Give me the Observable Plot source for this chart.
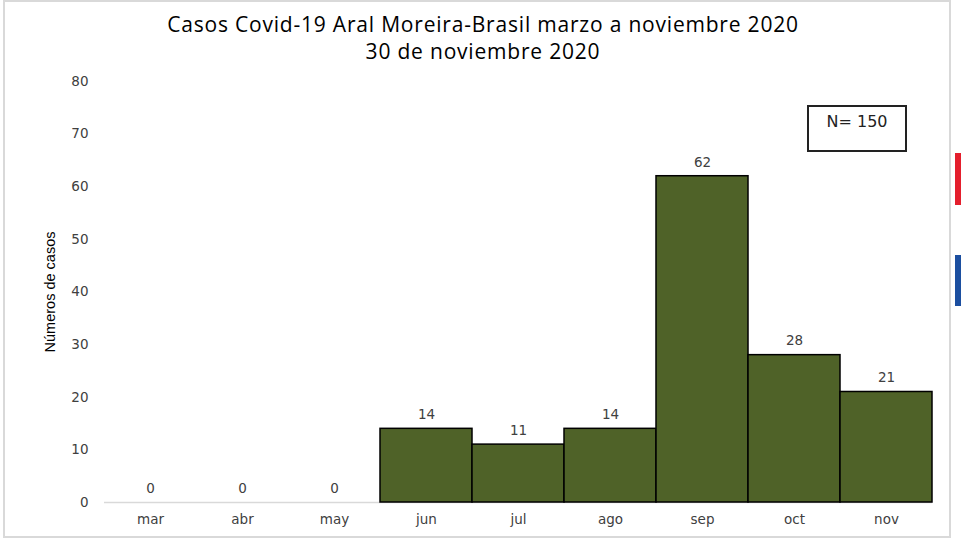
<!DOCTYPE html>
<html>
<head>
<meta charset="utf-8">
<script src="https://cdn.jsdelivr.net/npm/d3@7"></script>
<script src="https://cdn.jsdelivr.net/npm/@observablehq/plot@0.6"></script>
<style>
  html, body { margin: 0; padding: 0; background: #fff; }
  #page { position: relative; width: 961px; height: 542px; overflow: hidden; background: #fff; }
  #frame { position: absolute; left: 3px; top: 0px; width: 944px; height: 534px; border: 2px solid #d9d9d9; box-sizing: content-box; }
  #title { position: absolute; left: 0; top: 11px; width: 966px; text-align: center; font-family: "Open Sans", sans-serif; font-size: 21px; color: #000; line-height: 27px; white-space: nowrap; }
  #chart { position: absolute; left: 0; top: 70px; }
  #nbox { position: absolute; left: 807px; top: 105px; width: 96px; height: 43px; border: 2px solid #222; font-family: "DejaVu Sans", Verdana, sans-serif; font-size: 16px; color: #222; text-align: center; line-height: 30px; }
  .strip { position: absolute; left: 955px; width: 6px; }
</style>
</head>
<body>
<div id="page">
  <div id="frame"></div>
  <div class="strip" style="top:153px;height:52px;background:#e41f2d"></div>
  <div class="strip" style="top:255px;height:51px;background:#1c4fa0"></div>
  <div id="title"><span id="t1">Casos Covid-19 Aral Moreira-Brasil marzo a noviembre 2020</span><br><span id="t2">30 de noviembre 2020</span></div>
  <div id="chart"></div>
  <div id="nbox">N= 150</div>
</div>
<script>
const months = ["mar", "abr", "may", "jun", "jul", "ago", "sep", "oct", "nov"];
const cases = [0, 0, 0, 14, 11, 14, 62, 28, 21];
const yTicks = [0, 10, 20, 30, 40, 50, 60, 70, 80];
const yLabel = "Números de casos";

const data = months.map((m, i) => ({month: m, value: cases[i]}));

// fit title width to the reference (small letter-spacing)
const t1 = document.getElementById("t1");
const title = document.getElementById("title");
const w = t1.getBoundingClientRect().width;
const ls = Math.max(0, Math.min(0.8, (694 - w) / t1.textContent.length));
title.style.letterSpacing = ls.toFixed(2) + "px";

const tickFont = "DejaVu Sans, Verdana, sans-serif";

const chart = Plot.plot({
  width: 961,
  height: 472,
  marginTop: 11,
  marginBottom: 40,
  marginLeft: 104,
  marginRight: 29,
  style: {fontFamily: tickFont, fontSize: "13.5px", color: "#404040", background: "transparent"},
  x: {domain: months, padding: 0},
  y: {domain: [0, 80]},
  marks: [
    Plot.ruleY([0], {stroke: "#d9d9d9", strokeWidth: 1.5}),
    Plot.barY(data, {x: "month", y: "value", fill: "#4f6228", stroke: "#000", strokeWidth: 1.5}),
    Plot.text(data, {x: "month", y: "value", text: d => String(d.value), dy: -14, fill: "#404040", fontSize: 13.5}),
    Plot.axisX({tickSize: 0, tickPadding: 12, label: null, fill: "#404040", fontSize: 13.5}),
    Plot.axisY({ticks: yTicks, tickSize: 0, tickPadding: 16, label: null, fill: "#404040", fontSize: 13.5})
  ]
});
document.getElementById("chart").appendChild(chart);

// y label
const svgNS = "http://www.w3.org/2000/svg";
const lbl = document.createElementNS(svgNS, "text");
lbl.setAttribute("transform", "translate(55, 222) rotate(-90)");
lbl.setAttribute("text-anchor", "middle");
lbl.setAttribute("font-family", "Liberation Sans Narrow, Arial Narrow, sans-serif");
lbl.setAttribute("font-size", "14.5");
lbl.setAttribute("fill", "#000");
lbl.textContent = yLabel;
chart.appendChild(lbl);
</script>
</body>
</html>
